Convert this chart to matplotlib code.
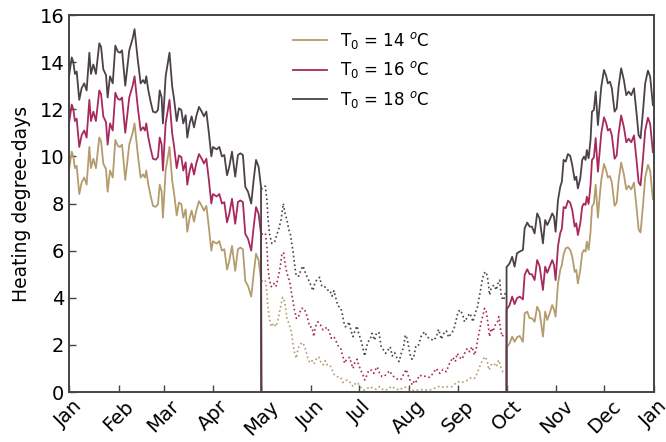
import matplotlib
matplotlib.use("Agg")
import matplotlib.pyplot as plt
import numpy as np

# day of year for each reading (Jan 1 = 0)
month_starts = [0, 31, 59, 90, 120, 151, 181, 212, 243, 273, 304, 334, 365]
month_names = ['Jan', 'Feb', 'Mar', 'Apr', 'May', 'Jun', 'Jul', 'Aug', 'Sep',
               'Oct', 'Nov', 'Dec', 'Jan']

# heating season, Jan - Apr
winter_days = [0, 1.7, 2.7, 3.7, 4.8, 6.4, 7.9, 9.5, 11.0, 12.7, 13.7, 15.2, 16.8, 18.9, 20.0,
               21.4, 23.1, 24.1, 25.6, 27.3, 28.9, 30.4, 31.8, 33.1, 35.1, 37.6, 39.7, 40.9,
               42.9, 44.7, 46.2, 47.4, 48.2, 49.5, 51.0, 52.4, 54.1, 55.5, 56.6, 57.8, 58.6,
               60.3, 62.7, 64.4, 65.5, 67.2, 68.6, 70.1, 71.3, 72.8, 73.8, 75.3, 76.5, 78.0,
               79.4, 81.1, 82.8, 84.2, 85.7, 87.3, 88.8, 89.8, 92.1, 93.8, 95.4, 96.9, 98.6,
               100.0, 101.7, 103.7, 105.4, 106.9, 108.5, 110.0, 111.7, 113.7, 115.2, 116.7,
               118.3, 119.8]
hdd18_winter = [13.4, 14.2, 14.0, 13.5, 13.6, 12.4, 12.9, 13.1, 12.8, 14.4, 13.5, 13.9, 13.5,
                14.8, 14.65, 13.7, 13.45, 12.5, 13.4, 13.1, 14.7, 14.45, 14.4, 14.5, 13.0,
                14.5, 15.0, 15.4, 14.1, 13.1, 13.24, 13.1, 13.4, 12.8, 12.3, 11.9, 11.86,
                11.97, 12.8, 12.5, 11.4, 13.4, 14.4, 12.96, 12.46, 11.5, 12.04, 11.97, 11.4,
                11.75, 10.8, 11.4, 11.7, 11.23, 11.7, 12.1, 11.9, 11.7, 11.9, 10.98, 10.0,
                10.4, 10.3, 10.4, 10.0, 10.06, 9.2, 9.56, 10.2, 9.14, 10.06, 10.13, 10.06,
                8.71, 8.5, 8.0, 9.0, 9.85, 9.56, 8.71]
hdd16_winter = [11.4, 12.2, 12.0, 11.5, 11.6, 10.4, 10.9, 11.1, 10.8, 12.4, 11.5, 11.9, 11.5,
                12.8, 12.65, 11.7, 11.45, 10.5, 11.4, 11.1, 12.7, 12.45, 12.4, 12.5, 11.0,
                12.5, 13.0, 13.4, 12.1, 11.1, 11.24, 11.1, 11.4, 10.8, 10.3, 9.9, 9.86,
                9.97, 10.8, 10.5, 9.4, 11.4, 12.4, 10.96, 10.46, 9.5, 10.04, 9.97, 9.4,
                9.75, 8.8, 9.4, 9.7, 9.23, 9.7, 10.1, 9.9, 9.7, 9.9, 8.98, 8.0,
                8.4, 8.3, 8.4, 8.0, 8.06, 7.2, 7.56, 8.2, 7.14, 8.06, 8.13, 8.06,
                6.71, 6.5, 6.0, 7.0, 7.85, 7.56, 6.71]
hdd14_winter = [9.4, 10.2, 10.0, 9.5, 9.6, 8.4, 8.9, 9.1, 8.8, 10.4, 9.5, 9.9, 9.5,
                10.8, 10.65, 9.7, 9.45, 8.5, 9.4, 9.1, 10.7, 10.45, 10.4, 10.5, 9.0,
                10.5, 11.0, 11.4, 10.1, 9.1, 9.24, 9.1, 9.4, 8.8, 8.3, 7.9, 7.86,
                7.97, 8.8, 8.5, 7.4, 9.4, 10.4, 8.96, 8.46, 7.5, 8.04, 7.97, 7.4,
                7.75, 6.8, 7.4, 7.7, 7.23, 7.7, 8.1, 7.9, 7.7, 7.9, 6.98, 6.0,
                6.4, 6.3, 6.4, 6.0, 6.06, 5.2, 5.56, 6.2, 5.14, 6.06, 6.13, 6.06,
                4.71, 4.5, 4.05, 5.0, 5.87, 5.6, 4.75]

# heating switched off, May - Sep
off_days = [120, 273]
off_hdd = [0, 0]

# heating season, Oct - Dec
autumn_days = [273.0, 274.9, 276.5, 278.0, 279.5, 281.2, 283.2, 284.3, 285.9, 287.4, 288.8,
               290.5, 292.1, 293.6, 295.7, 297.1, 298.4, 299.9, 301.5, 302.6, 303.6, 305.1,
               306.5, 307.5, 308.6, 309.9, 311.3, 312.7, 314.0, 315.5, 316.5, 317.5, 319.0,
               320.2, 321.3, 322.3, 323.1, 324.2, 325.4, 326.3, 327.5, 328.6, 330.0, 331.1,
               332.1, 333.8, 335.2, 336.2, 337.5, 338.7, 340.4, 341.7, 342.9, 344.5, 346.2,
               347.7, 349.2, 350.8, 352.5, 353.9, 355.4, 356.6, 358.1, 359.5, 361.2, 362.6,
               364.3]
hdd18_autumn = [5.3, 5.46, 5.74, 5.32, 5.89, 5.96, 6.03, 6.95, 7.19, 7.02, 7.02, 6.73, 7.58,
                7.37, 6.31, 7.3, 7.09, 7.3, 7.58, 7.44, 6.8, 8.15, 8.71, 8.93, 9.85, 9.78,
                10.1, 10.02, 9.63, 9.0, 9.14, 8.64, 9.07, 9.85, 9.99, 9.85, 10.27, 9.92, 10.7,
                11.9, 11.97, 12.75, 11.33, 12.18, 12.96, 13.67, 13.4, 13.1, 13.17, 12.89,
                11.9, 12.04, 12.96, 13.74, 13.24, 12.6, 12.75, 12.6, 12.89, 11.97, 10.9,
                10.77, 11.9, 13.1, 13.64, 13.38, 12.18]
hdd16_autumn = [3.5, 3.69, 4.05, 3.73, 3.98, 4.05, 3.93, 4.97, 5.21, 5.0, 5.0, 4.75, 5.6,
                5.35, 4.33, 5.32, 5.06, 5.32, 5.6, 5.39, 4.75, 6.2, 6.75, 6.93, 7.85, 7.8,
                8.12, 8.03, 7.72, 7.02, 7.16, 6.66, 7.16, 7.87, 8.0, 7.94, 8.29, 7.98, 8.79,
                9.85, 9.96, 10.78, 9.35, 10.2, 10.98, 11.66, 11.4, 11.1, 11.17, 10.89,
                9.9, 10.04, 10.96, 11.74, 11.24, 10.6, 10.75, 10.6, 10.89, 9.97, 8.9,
                8.77, 9.9, 11.1, 11.64, 11.38, 10.18]
hdd14_autumn = [1.9, 2.06, 2.35, 2.13, 2.32, 2.38, 2.13, 3.34, 3.41, 3.13, 3.13, 2.98, 3.62,
                3.41, 2.35, 3.41, 3.06, 3.34, 3.69, 3.5, 3.2, 4.6, 5.18, 5.4, 5.85, 6.1,
                6.14, 6.03, 5.74, 5.1, 5.18, 4.61, 5.18, 5.89, 6.03, 5.96, 6.38, 6.03, 6.8,
                7.87, 8.0, 8.8, 7.4, 8.29, 9.0, 9.68, 9.4, 9.1, 9.17, 8.89,
                7.9, 8.04, 8.96, 9.74, 9.24, 8.6, 8.75, 8.6, 8.89, 7.97, 6.9,
                6.77, 7.9, 9.1, 9.64, 9.38, 8.18]

# degree-days outside the heating season (dotted)
summer_days18 = [120, 121.5, 122.5, 123.5, 124.1, 125.0, 126.6, 128.3, 129.3, 130.8, 132.3,
                 133.7, 134.7, 136.0, 137.1, 138.1, 139.1, 139.7, 140.4, 141.2, 141.8, 143.3,
                 144.5, 146.0, 147.0, 148.0, 149.5, 150.8, 152.2, 153.3, 154.7, 156.4, 157.8,
                 159.5, 161.1, 162.6, 164.1, 165.3, 166.8, 167.8, 169.2, 170.3, 171.4, 172.4,
                 173.6, 174.7, 176.1, 177.2, 178.2, 179.7, 180.7, 182.0, 183.4, 184.5, 185.7,
                 186.5, 188.0, 189.0, 190.7, 191.9, 193.4, 194.8, 196.3, 197.6, 199.0, 200.4,
                 201.7, 203.2, 204.2, 205.9, 207.3, 208.8, 209.8, 210.9, 211.9, 212.9, 214.0,
                 215.2, 216.3, 217.7, 219.8, 221.9, 223.5, 225.6, 227.1, 229.1, 230.6, 232.3,
                 233.9, 235.4, 236.9, 238.5, 240.0, 241.6, 242.7, 244.3, 245.8, 246.8, 248.5,
                 250.0, 251.0, 252.0, 253.5, 254.7, 255.8, 256.8, 257.8, 258.9, 260.3, 261.4,
                 262.4, 263.4, 265.1, 266.6, 267.6, 268.7, 269.7, 271.2, 272.2]
summer_hdd18 = [8.6, 8.7, 8.74, 8.15, 7.44, 6.74, 6.3, 6.38, 6.6, 6.9, 7.3, 8.0, 7.6, 7.3,
                6.9, 6.7, 6.24, 6.03, 5.6, 5.18, 4.92, 4.92, 5.15, 5.35, 5.15, 4.97, 4.75,
                4.54, 4.3, 4.6, 4.78, 4.87, 4.47, 4.47, 4.33, 4.33, 4.07, 4.3, 3.9, 3.65,
                3.6, 3.41, 2.98, 2.77, 2.8, 2.98, 2.56, 2.35, 2.56, 2.8, 2.49, 2.24, 1.85,
                1.53, 1.92, 2.13, 2.24, 2.49, 2.2, 2.52, 2.52, 1.92, 1.78, 1.64, 1.78, 1.92,
                1.53, 1.67, 1.5, 1.29, 1.64, 1.92, 2.42, 2.28, 1.92, 1.57, 1.39, 1.53, 1.92,
                1.92, 2.38, 2.56, 2.32, 2.28, 2.18, 2.32, 2.66, 2.24, 2.49, 2.6, 2.32, 2.49,
                2.63, 3.06, 3.41, 3.48, 3.23, 2.98, 3.17, 3.34, 3.2, 2.98, 3.37, 3.55, 3.98,
                4.33, 4.75, 5.04, 5.1, 4.75, 4.12, 4.4, 4.54, 4.33, 4.6, 4.75, 4.05, 3.9, 4.2]

summer_days16 = [120, 122.5, 123.5, 124.1, 125.0, 126.2, 127.7, 129.1, 130.4, 131.8, 132.9,
                 133.9, 134.9, 136.0, 137.7, 138.7, 139.7, 140.4, 141.2, 141.8, 142.9, 143.9,
                 144.9, 146.6, 148.0, 149.1, 150.2, 151.6, 152.8, 153.7, 155.3, 157.0, 158.5,
                 159.9, 161.1, 162.6, 163.6, 165.3, 166.8, 168.2, 169.5, 170.9, 172.0, 173.0,
                 174.0, 175.1, 176.1, 177.2, 178.2, 179.7, 180.7, 182.0, 183.4, 184.5, 185.9,
                 187.1, 188.6, 190.1, 191.1, 192.3, 193.8, 195.3, 196.9, 198.4, 200.1, 201.5,
                 202.7, 204.2, 205.7, 207.3, 208.8, 210.4, 211.9, 213.2, 214.2, 215.7, 216.7,
                 218.8, 220.8, 222.9, 225.0, 227.1, 229.1, 231.3, 233.3, 235.4, 237.5, 239.5,
                 241.0, 242.2, 243.7, 245.2, 246.8, 248.5, 250.0, 251.4, 253.1, 254.1, 255.1,
                 256.2, 257.2, 258.3, 259.3, 260.3, 261.4, 262.4, 263.4, 264.5, 265.9, 267.2,
                 268.2, 269.3, 270.3, 271.4]
summer_hdd16 = [6.7, 6.74, 6.17, 5.32, 4.75, 4.47, 4.61, 4.47, 4.83, 5.32, 5.89, 5.91, 5.39,
                5.04, 4.68, 4.26, 3.9, 3.55, 3.34, 3.13, 3.13, 3.34, 3.55, 3.55, 3.34, 3.06,
                2.77, 2.75, 2.35, 2.77, 2.98, 2.84, 2.63, 2.7, 2.75, 2.52, 2.28, 2.35, 2.13,
                1.92, 1.85, 1.5, 1.22, 1.36, 1.43, 1.47, 1.22, 1.0, 1.22, 1.39, 1.15, 0.93,
                0.72, 0.51, 0.72, 0.93, 0.93, 0.79, 0.93, 1.07, 0.79, 0.65, 0.68, 0.79, 0.9,
                0.72, 0.65, 0.58, 0.51, 0.55, 0.76, 0.96, 0.65, 0.44, 0.3, 0.51, 0.44, 0.72,
                0.65, 0.68, 0.62, 0.79, 1.0, 0.79, 0.96, 0.86, 1.22, 1.47, 1.29, 1.64, 1.47,
                1.39, 1.64, 1.85, 1.71, 1.92, 1.57, 1.85, 2.28, 2.63, 2.98, 3.27, 3.55, 3.41,
                2.92, 2.35, 2.7, 2.56, 2.84, 2.94, 3.2, 2.63, 2.35, 2.49]

summer_days14 = [120, 122.5, 123.5, 124.1, 125.0, 126.2, 127.7, 129.1, 130.4, 131.8, 133.3,
                 134.6, 136.0, 137.1, 138.7, 139.7, 140.8, 141.8, 142.9, 144.5, 146.0, 147.4,
                 148.7, 150.2, 151.6, 152.8, 154.3, 155.8, 157.0, 158.5, 159.9, 161.1, 162.6,
                 164.1, 165.3, 166.8, 168.2, 169.5, 170.9, 172.4, 173.6, 175.1, 176.1, 177.6,
                 179.0, 180.3, 181.4, 182.8, 184.0, 185.5, 187.6, 189.6, 191.7, 193.8, 196.3,
                 199.0, 201.1, 203.2, 206.3, 208.4, 210.4, 212.5, 215.7, 218.8, 221.9, 225.0,
                 228.1, 231.3, 233.9, 236.4, 239.1, 241.2, 242.7, 244.7, 246.8, 248.9, 251.0,
                 253.1, 254.7, 256.2, 257.6, 259.3, 260.8, 262.0, 263.4, 265.1, 266.6, 268.1,
                 269.3, 270.7, 271.8]
summer_hdd14 = [4.7, 4.75, 4.19, 3.62, 3.13, 2.77, 2.92, 2.77, 3.06, 3.55, 4.02, 3.83, 3.13,
                2.92, 2.56, 2.06, 1.64, 1.43, 1.85, 2.04, 2.1, 1.85, 1.5, 1.25, 1.33, 1.19,
                1.39, 1.5, 1.29, 1.15, 1.33, 1.15, 1.15, 0.96, 0.76, 0.65, 0.65, 0.62, 0.4,
                0.48, 0.51, 0.44, 0.3, 0.23, 0.4, 0.37, 0.23, 0.16, 0.08, 0.11, 0.23, 0.16,
                0.11, 0.23, 0.08, 0.11, 0.25, 0.16, 0.08, 0.2, 0.2, 0.08, 0.06, 0.11, 0.08,
                0.08, 0.16, 0.25, 0.2, 0.23, 0.23, 0.37, 0.44, 0.4, 0.44, 0.51, 0.62, 0.58,
                0.79, 1.07, 1.29, 1.5, 1.36, 0.93, 1.15, 1.22, 1.07, 1.36, 1.07, 0.86, 0.86]

colors = {14: '#b49c6e', 16: '#a8295c', 18: '#4b4249'}

fig = plt.figure(figsize=(6.66, 4.42), dpi=100)
ax = fig.add_axes([0.1036, 0.1131, 0.8784, 0.8529])

series = [
    (14, hdd14_winter, hdd14_autumn, summer_days14, summer_hdd14),
    (16, hdd16_winter, hdd16_autumn, summer_days16, summer_hdd16),
    (18, hdd18_winter, hdd18_autumn, summer_days18, summer_hdd18),
]
for t0, win, aut, sdays, shdd in series:
    x = np.concatenate([winter_days, off_days, autumn_days])
    y = np.concatenate([win, off_hdd, aut])
    ax.plot(x, y, color=colors[t0], lw=1.3, label=r'T$_0$ = %d $^o$C' % t0)
    ax.plot(sdays, shdd, color=colors[t0], lw=1.2, ls=':')

ax.set_xlim(0, 365)
ax.set_ylim(0, 16)
ax.set_yticks(range(0, 17, 2))
ax.set_xticks(month_starts)
ax.set_xticklabels(month_names, rotation=45, ha='center')
ax.tick_params(axis='both', direction='in', labelsize=14, length=5, width=1,
               top=False, right=False, color='#444444')
for s in ax.spines.values():
    s.set_color('#444444')
    s.set_linewidth(1.4)
ax.set_ylabel('Heating degree-days', fontsize=13.5, labelpad=6)
ax.legend(loc='upper center', frameon=False, fontsize=12, handlelength=2.0,
          labelspacing=0.5)

fig.savefig('out.png', dpi=100)
